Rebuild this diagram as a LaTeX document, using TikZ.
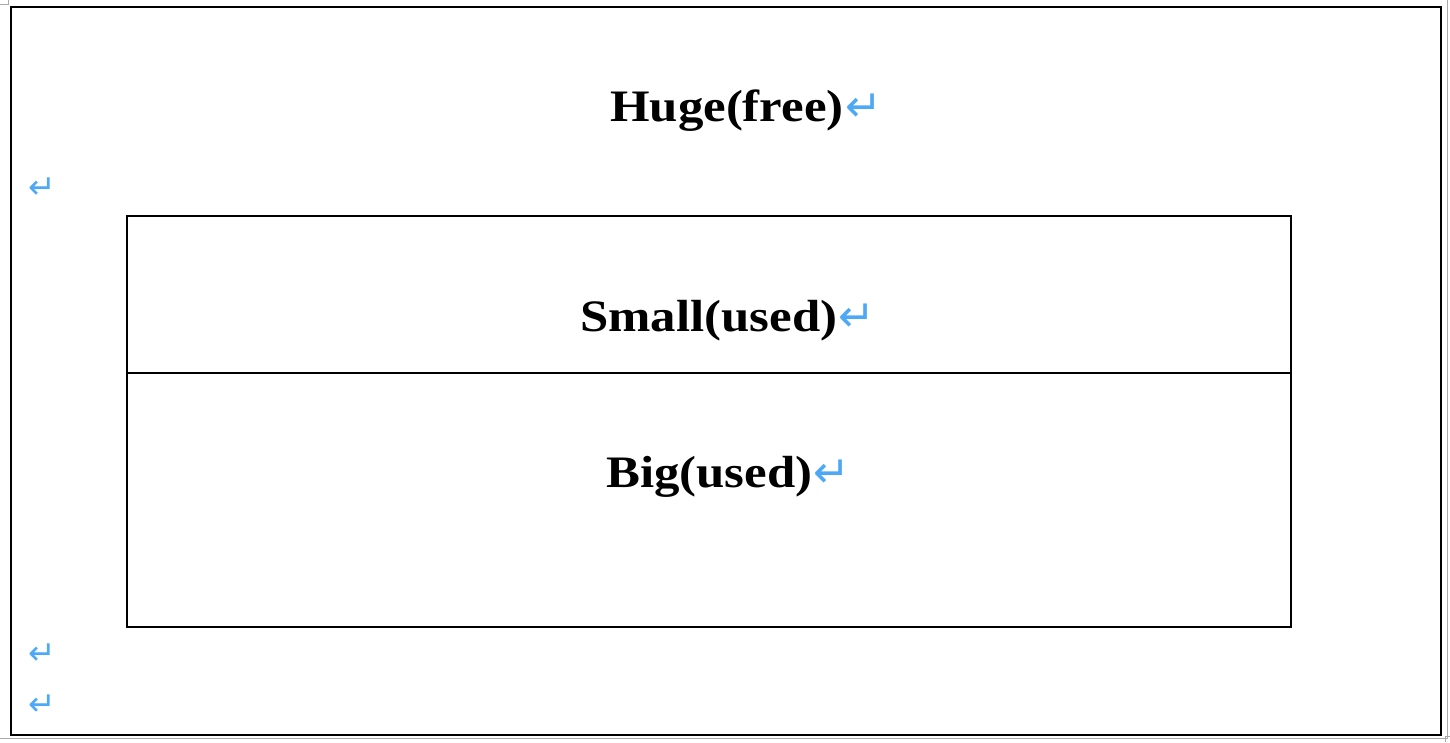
\documentclass[tikz,border=0pt]{standalone}
\usepackage{fontspec}
\setmainfont{Liberation Serif}
\newfontfamily\markfont{DejaVu Sans}
\definecolor{markblue}{RGB}{77,168,245}
\definecolor{pagegray}{RGB}{170,170,170}
\begin{document}
\begin{tikzpicture}[x=1pt,y=-1pt,
  frame/.style={line width=1.6pt,draw=black},
  label/.style={inner sep=0pt,font=\bfseries\fontsize{45}{50}\selectfont},
  retmark/.style={inner sep=0pt,text=markblue,font=\markfont\fontsize{44}{46}\selectfont},
  smallmark/.style={inner sep=0pt,text=markblue,font=\markfont\fontsize{33}{36}\selectfont}]
\useasboundingbox (0,0) rectangle (1450,742);
\fill[white] (0,0) rectangle (1450,742);
% page edge marks
\draw[pagegray,line width=0.8pt] (1447,0) -- (1447,738) -- (0,738);
\draw[pagegray,line width=0.8pt] (0,4) -- (8,4) -- (8,0);
\draw[pagegray,line width=0.8pt] (1450,736) -- (1445,736) -- (1445,742);
% outer frame
\draw[frame] (11,7) rectangle (1441,735);
% inner blocks
\draw[frame] (127,216) rectangle (1291,627);
\draw[frame] (127,373) -- (1291,373);
% labels
\node[label,anchor=base west] (huge) at (610,121) {\scalebox{1.13}[1]{Huge(free)}};
\node[retmark,anchor=base west] (hugeret) at ([xshift=1pt]huge.base east) {↵};
\node[label,anchor=base west] (small) at (580,331) {\scalebox{1.13}[1]{Small(used)}};
\node[retmark,anchor=base west] (smallret) at ([xshift=1pt]small.base east) {↵};
\node[label,anchor=base west] (big) at (606,487) {\scalebox{1.13}[1]{Big(used)}};
\node[retmark,anchor=base west] (bigret) at ([xshift=1pt]big.base east) {↵};
% empty paragraph marks
\node[smallmark,anchor=base west] (p1) at (28,198) {↵};
\node[smallmark,anchor=base west] (p2) at (28,664) {↵};
\node[smallmark,anchor=base west] (p3) at (28,715) {↵};
\end{tikzpicture}
\end{document}
